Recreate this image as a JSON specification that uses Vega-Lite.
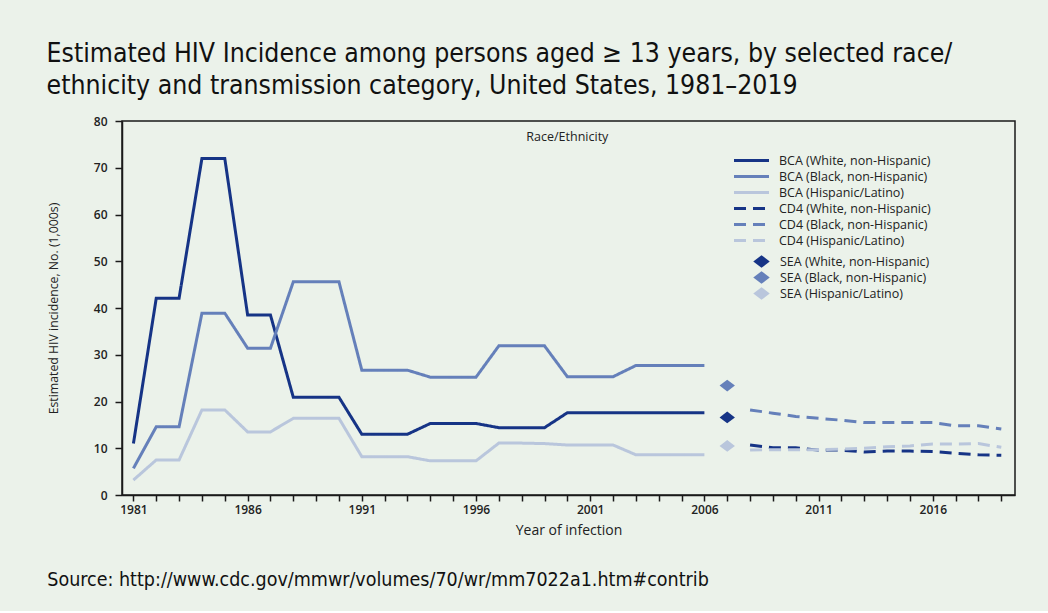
{
  "$schema": "https://vega.github.io/schema/vega-lite/v6.json",
  "background": "#ebf2ea",
  "padding": {"left": 46, "top": 40, "right": 34, "bottom": 20},
  "title": {
    "text": ["Estimated HIV Incidence among persons aged \u2265 13 years, by selected race/", "ethnicity and transmission category, United States, 1981\u20132019"],
    "anchor": "start", "offset": 15,
    "font": "'DejaVu Sans Condensed', 'Liberation Sans Narrow', Roboto, sans-serif",
    "fontSize": 26.4, "fontWeight": "normal", "lineHeight": 32, "color": "#111111"
  },
  "config": {
    "view": {"stroke": "#1a1a1a", "strokeWidth": 1.5},
    "axis": {
      "grid": false, "domainColor": "#1a1a1a", "domainWidth": 1.5, "tickColor": "#1a1a1a", "tickWidth": 1.5,
      "labelFont": "Open Sans", "labelFontSize": 12, "labelFontWeight": 600, "labelColor": "#222222",
      "titleFont": "Open Sans", "titleFontWeight": "normal", "titleColor": "#222222"
    },
    "legend": {
      "orient": "none", "title": null, "padding": 0, "symbolSize": 100, "symbolStrokeWidth": 3, "rowPadding": 3,
      "labelFont": "Open Sans", "labelFontSize": 12.5, "labelColor": "#222222", "labelLimit": 300
    }
  },
  "vconcat": [
    {
      "width": 893,
      "height": 374,
      "title": {
        "text": "Source: http://www.cdc.gov/mmwr/volumes/70/wr/mm7022a1.htm#contrib",
        "orient": "bottom", "anchor": "start", "offset": 34,
        "font": "'DejaVu Sans Condensed', 'Liberation Sans Narrow', Roboto, sans-serif",
        "fontSize": 19.5, "fontWeight": "normal", "color": "#111111"
      },
      "data": {"values": [
        {"series": "BCA (White, non-Hispanic)", "year": 1981, "value": 11.0},
        {"series": "BCA (White, non-Hispanic)", "year": 1982, "value": 42.1},
        {"series": "BCA (White, non-Hispanic)", "year": 1983, "value": 42.1},
        {"series": "BCA (White, non-Hispanic)", "year": 1984, "value": 72.0},
        {"series": "BCA (White, non-Hispanic)", "year": 1985, "value": 72.0},
        {"series": "BCA (White, non-Hispanic)", "year": 1986, "value": 38.5},
        {"series": "BCA (White, non-Hispanic)", "year": 1987, "value": 38.5},
        {"series": "BCA (White, non-Hispanic)", "year": 1988, "value": 20.9},
        {"series": "BCA (White, non-Hispanic)", "year": 1989, "value": 20.9},
        {"series": "BCA (White, non-Hispanic)", "year": 1990, "value": 20.9},
        {"series": "BCA (White, non-Hispanic)", "year": 1991, "value": 13.0},
        {"series": "BCA (White, non-Hispanic)", "year": 1992, "value": 13.0},
        {"series": "BCA (White, non-Hispanic)", "year": 1993, "value": 13.0},
        {"series": "BCA (White, non-Hispanic)", "year": 1994, "value": 15.3},
        {"series": "BCA (White, non-Hispanic)", "year": 1995, "value": 15.3},
        {"series": "BCA (White, non-Hispanic)", "year": 1996, "value": 15.3},
        {"series": "BCA (White, non-Hispanic)", "year": 1997, "value": 14.4},
        {"series": "BCA (White, non-Hispanic)", "year": 1998, "value": 14.4},
        {"series": "BCA (White, non-Hispanic)", "year": 1999, "value": 14.4},
        {"series": "BCA (White, non-Hispanic)", "year": 2000, "value": 17.6},
        {"series": "BCA (White, non-Hispanic)", "year": 2001, "value": 17.6},
        {"series": "BCA (White, non-Hispanic)", "year": 2002, "value": 17.6},
        {"series": "BCA (White, non-Hispanic)", "year": 2003, "value": 17.6},
        {"series": "BCA (White, non-Hispanic)", "year": 2004, "value": 17.6},
        {"series": "BCA (White, non-Hispanic)", "year": 2005, "value": 17.6},
        {"series": "BCA (White, non-Hispanic)", "year": 2006, "value": 17.6},
        {"series": "BCA (Black, non-Hispanic)", "year": 1981, "value": 5.7},
        {"series": "BCA (Black, non-Hispanic)", "year": 1982, "value": 14.6},
        {"series": "BCA (Black, non-Hispanic)", "year": 1983, "value": 14.6},
        {"series": "BCA (Black, non-Hispanic)", "year": 1984, "value": 38.9},
        {"series": "BCA (Black, non-Hispanic)", "year": 1985, "value": 38.9},
        {"series": "BCA (Black, non-Hispanic)", "year": 1986, "value": 31.4},
        {"series": "BCA (Black, non-Hispanic)", "year": 1987, "value": 31.4},
        {"series": "BCA (Black, non-Hispanic)", "year": 1988, "value": 45.6},
        {"series": "BCA (Black, non-Hispanic)", "year": 1989, "value": 45.6},
        {"series": "BCA (Black, non-Hispanic)", "year": 1990, "value": 45.6},
        {"series": "BCA (Black, non-Hispanic)", "year": 1991, "value": 26.7},
        {"series": "BCA (Black, non-Hispanic)", "year": 1992, "value": 26.7},
        {"series": "BCA (Black, non-Hispanic)", "year": 1993, "value": 26.7},
        {"series": "BCA (Black, non-Hispanic)", "year": 1994, "value": 25.2},
        {"series": "BCA (Black, non-Hispanic)", "year": 1995, "value": 25.2},
        {"series": "BCA (Black, non-Hispanic)", "year": 1996, "value": 25.2},
        {"series": "BCA (Black, non-Hispanic)", "year": 1997, "value": 31.9},
        {"series": "BCA (Black, non-Hispanic)", "year": 1998, "value": 31.9},
        {"series": "BCA (Black, non-Hispanic)", "year": 1999, "value": 31.9},
        {"series": "BCA (Black, non-Hispanic)", "year": 2000, "value": 25.3},
        {"series": "BCA (Black, non-Hispanic)", "year": 2001, "value": 25.3},
        {"series": "BCA (Black, non-Hispanic)", "year": 2002, "value": 25.3},
        {"series": "BCA (Black, non-Hispanic)", "year": 2003, "value": 27.7},
        {"series": "BCA (Black, non-Hispanic)", "year": 2004, "value": 27.7},
        {"series": "BCA (Black, non-Hispanic)", "year": 2005, "value": 27.7},
        {"series": "BCA (Black, non-Hispanic)", "year": 2006, "value": 27.7},
        {"series": "BCA (Hispanic/Latino)", "year": 1981, "value": 3.2},
        {"series": "BCA (Hispanic/Latino)", "year": 1982, "value": 7.5},
        {"series": "BCA (Hispanic/Latino)", "year": 1983, "value": 7.5},
        {"series": "BCA (Hispanic/Latino)", "year": 1984, "value": 18.2},
        {"series": "BCA (Hispanic/Latino)", "year": 1985, "value": 18.2},
        {"series": "BCA (Hispanic/Latino)", "year": 1986, "value": 13.5},
        {"series": "BCA (Hispanic/Latino)", "year": 1987, "value": 13.5},
        {"series": "BCA (Hispanic/Latino)", "year": 1988, "value": 16.4},
        {"series": "BCA (Hispanic/Latino)", "year": 1989, "value": 16.4},
        {"series": "BCA (Hispanic/Latino)", "year": 1990, "value": 16.4},
        {"series": "BCA (Hispanic/Latino)", "year": 1991, "value": 8.2},
        {"series": "BCA (Hispanic/Latino)", "year": 1992, "value": 8.2},
        {"series": "BCA (Hispanic/Latino)", "year": 1993, "value": 8.2},
        {"series": "BCA (Hispanic/Latino)", "year": 1994, "value": 7.3},
        {"series": "BCA (Hispanic/Latino)", "year": 1995, "value": 7.3},
        {"series": "BCA (Hispanic/Latino)", "year": 1996, "value": 7.3},
        {"series": "BCA (Hispanic/Latino)", "year": 1997, "value": 11.1},
        {"series": "BCA (Hispanic/Latino)", "year": 1998, "value": 11.1},
        {"series": "BCA (Hispanic/Latino)", "year": 1999, "value": 11.0},
        {"series": "BCA (Hispanic/Latino)", "year": 2000, "value": 10.7},
        {"series": "BCA (Hispanic/Latino)", "year": 2001, "value": 10.7},
        {"series": "BCA (Hispanic/Latino)", "year": 2002, "value": 10.7},
        {"series": "BCA (Hispanic/Latino)", "year": 2003, "value": 8.6},
        {"series": "BCA (Hispanic/Latino)", "year": 2004, "value": 8.6},
        {"series": "BCA (Hispanic/Latino)", "year": 2005, "value": 8.6},
        {"series": "BCA (Hispanic/Latino)", "year": 2006, "value": 8.6},
        {"series": "CD4 (White, non-Hispanic)", "year": 2008, "value": 10.7},
        {"series": "CD4 (White, non-Hispanic)", "year": 2009, "value": 10.1},
        {"series": "CD4 (White, non-Hispanic)", "year": 2010, "value": 10.1},
        {"series": "CD4 (White, non-Hispanic)", "year": 2011, "value": 9.6},
        {"series": "CD4 (White, non-Hispanic)", "year": 2012, "value": 9.6},
        {"series": "CD4 (White, non-Hispanic)", "year": 2013, "value": 9.2},
        {"series": "CD4 (White, non-Hispanic)", "year": 2014, "value": 9.4},
        {"series": "CD4 (White, non-Hispanic)", "year": 2015, "value": 9.4},
        {"series": "CD4 (White, non-Hispanic)", "year": 2016, "value": 9.3},
        {"series": "CD4 (White, non-Hispanic)", "year": 2017, "value": 8.9},
        {"series": "CD4 (White, non-Hispanic)", "year": 2018, "value": 8.6},
        {"series": "CD4 (White, non-Hispanic)", "year": 2019, "value": 8.5},
        {"series": "CD4 (Black, non-Hispanic)", "year": 2008, "value": 18.2},
        {"series": "CD4 (Black, non-Hispanic)", "year": 2009, "value": 17.5},
        {"series": "CD4 (Black, non-Hispanic)", "year": 2010, "value": 16.8},
        {"series": "CD4 (Black, non-Hispanic)", "year": 2011, "value": 16.4},
        {"series": "CD4 (Black, non-Hispanic)", "year": 2012, "value": 16.0},
        {"series": "CD4 (Black, non-Hispanic)", "year": 2013, "value": 15.5},
        {"series": "CD4 (Black, non-Hispanic)", "year": 2014, "value": 15.5},
        {"series": "CD4 (Black, non-Hispanic)", "year": 2015, "value": 15.5},
        {"series": "CD4 (Black, non-Hispanic)", "year": 2016, "value": 15.5},
        {"series": "CD4 (Black, non-Hispanic)", "year": 2017, "value": 14.8},
        {"series": "CD4 (Black, non-Hispanic)", "year": 2018, "value": 14.8},
        {"series": "CD4 (Black, non-Hispanic)", "year": 2019, "value": 14.1},
        {"series": "CD4 (Hispanic/Latino)", "year": 2008, "value": 9.6},
        {"series": "CD4 (Hispanic/Latino)", "year": 2009, "value": 9.7},
        {"series": "CD4 (Hispanic/Latino)", "year": 2010, "value": 9.7},
        {"series": "CD4 (Hispanic/Latino)", "year": 2011, "value": 9.7},
        {"series": "CD4 (Hispanic/Latino)", "year": 2012, "value": 9.8},
        {"series": "CD4 (Hispanic/Latino)", "year": 2013, "value": 10.0},
        {"series": "CD4 (Hispanic/Latino)", "year": 2014, "value": 10.3},
        {"series": "CD4 (Hispanic/Latino)", "year": 2015, "value": 10.5},
        {"series": "CD4 (Hispanic/Latino)", "year": 2016, "value": 10.9},
        {"series": "CD4 (Hispanic/Latino)", "year": 2017, "value": 10.9},
        {"series": "CD4 (Hispanic/Latino)", "year": 2018, "value": 11.0},
        {"series": "CD4 (Hispanic/Latino)", "year": 2019, "value": 10.2},
        {"marker": "SEA (White, non-Hispanic)", "year": 2007, "value": 16.6},
        {"marker": "SEA (Black, non-Hispanic)", "year": 2007, "value": 23.4},
        {"marker": "SEA (Hispanic/Latino)", "year": 2007, "value": 10.5}
      ]},
      "encoding": {
        "x": {
          "field": "year", "type": "quantitative",
          "scale": {"domain": [1980.5, 2019.6], "nice": false, "zero": false},
          "axis": {
            "title": "Year of infection", "titleFontSize": 14, "titlePadding": 8,
            "values": [1981,1982,1983,1984,1985,1986,1987,1988,1989,1990,1991,1992,1993,1994,1995,1996,1997,1998,1999,2000,2001,2002,2003,2004,2005,2006,2007,2008,2009,2010,2011,2012,2013,2014,2015,2016,2017,2018,2019],
            "labelExpr": "(datum.value - 1981) % 5 == 0 ? format(datum.value, 'd') : ''",
            "tickSize": 6, "labelPadding": 3
          }
        },
        "y": {
          "field": "value", "type": "quantitative",
          "scale": {"domain": [0, 80], "nice": false},
          "axis": {
            "title": "Estimated HIV incidence, No. (1,000s)", "titleFontSize": 12.3, "titlePadding": 33,
            "values": [0,10,20,30,40,50,60,70,80], "tickSize": 7, "labelPadding": 8
          }
        }
      },
      "layer": [
        {
          "transform": [{"filter": "isValid(datum.series)"}],
          "mark": {"type": "line", "strokeWidth": 3, "strokeJoin": "miter"},
          "encoding": {
            "color": {
              "field": "series", "type": "nominal",
              "scale": {
                "domain": ["BCA (White, non-Hispanic)", "BCA (Black, non-Hispanic)", "BCA (Hispanic/Latino)", "CD4 (White, non-Hispanic)", "CD4 (Black, non-Hispanic)", "CD4 (Hispanic/Latino)"],
                "range": ["#163486", "#6580ba", "#b9c6dc", "#163486", "#6580ba", "#b9c6dc"]
              },
              "legend": {"legendX": 623, "legendY": 33, "labelOffset": 21, "symbolType": "M-3.5,0H3.5"}
            },
            "strokeDash": {
              "field": "series", "type": "nominal",
              "scale": {
                "domain": ["BCA (White, non-Hispanic)", "BCA (Black, non-Hispanic)", "BCA (Hispanic/Latino)", "CD4 (White, non-Hispanic)", "CD4 (Black, non-Hispanic)", "CD4 (Hispanic/Latino)"],
                "range": [[1,0],[1,0],[1,0],[12,7],[12,7],[12,7]]
              },
              "legend": {"legendX": 623, "legendY": 33, "labelOffset": 21, "symbolType": "M-3.5,0H3.5"}
            }
          }
        },
        {
          "transform": [{"filter": "isValid(datum.marker)"}],
          "mark": {"type": "point", "filled": true, "opacity": 1, "size": 140, "strokeWidth": 0},
          "encoding": {
            "fill": {
              "field": "marker", "type": "nominal",
              "scale": {
                "domain": ["SEA (White, non-Hispanic)", "SEA (Black, non-Hispanic)", "SEA (Hispanic/Latino)"],
                "range": ["#163486", "#6580ba", "#b9c6dc"]
              },
              "legend": {"legendX": 633, "legendY": 134, "labelOffset": 12, "symbolSize": 160, "symbolStrokeWidth": 0}
            },
            "shape": {
              "field": "marker", "type": "nominal",
              "scale": {
                "domain": ["SEA (White, non-Hispanic)", "SEA (Black, non-Hispanic)", "SEA (Hispanic/Latino)"],
                "range": ["M-1.3,0L0,-1L1.3,0L0,1Z", "M-1.3,0L0,-1L1.3,0L0,1Z", "M-1.3,0L0,-1L1.3,0L0,1Z"]
              },
              "legend": {"legendX": 633, "legendY": 134, "labelOffset": 12, "symbolSize": 160, "symbolStrokeWidth": 0}
            }
          }
        },
        {
          "transform": [{"filter": "datum.marker == 'SEA (White, non-Hispanic)'"}],
          "mark": {"type": "text", "font": "Open Sans", "fontSize": 12.5, "color": "#222222"},
          "encoding": {
            "x": {"datum": 2000.0},
            "y": {"datum": 76.5},
            "text": {"value": "Race/Ethnicity"}
          }
        }
      ]
    }
  ]
}
